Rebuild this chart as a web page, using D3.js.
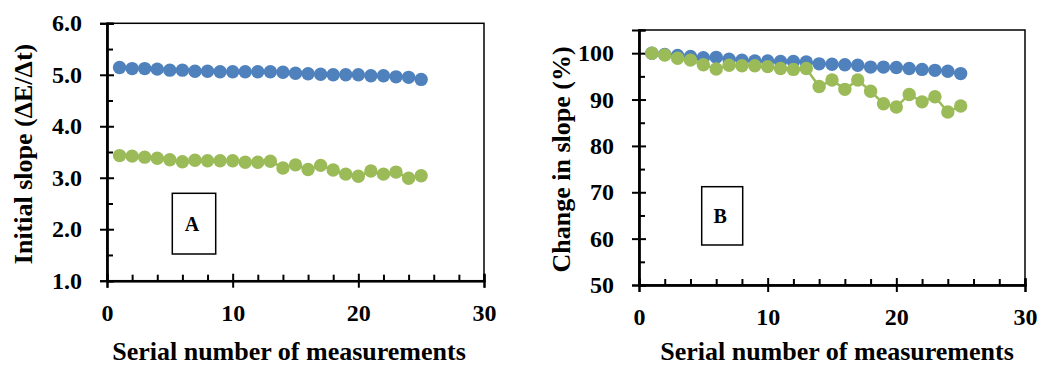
<!DOCTYPE html>
<html>
<head>
<meta charset="utf-8">
<script src="https://cdn.jsdelivr.net/npm/d3@7"></script>
<style>
  html, body { margin: 0; padding: 0; background: #fff; }
  svg { display: block; }
  text { font-family: "Liberation Serif", "Times New Roman", serif; font-weight: bold; fill: #000; }
</style>
</head>
<body>
<svg id="chart" width="1041" height="366"></svg>
<script>
// Serial number of each measurement
const serialNumbers = [1, 2, 3, 4, 5, 6, 7, 8, 9, 10, 11, 12, 13, 14, 15, 16, 17, 18, 19, 20, 21, 22, 23, 24, 25];

// Panel A: initial slope (ΔE/Δt)
const slopeBlue = [5.14, 5.12, 5.12, 5.11, 5.09, 5.09, 5.07, 5.07, 5.06, 5.06, 5.06, 5.06, 5.06,
                   5.05, 5.03, 5.02, 5.01, 5.00, 5.00, 5.00, 4.98, 4.98, 4.96, 4.95, 4.91];
const slopeGreen = [3.43, 3.42, 3.40, 3.38, 3.35, 3.31, 3.34, 3.33, 3.33, 3.33, 3.30, 3.30, 3.32,
                    3.19, 3.25, 3.16, 3.24, 3.15, 3.07, 3.03, 3.13, 3.07, 3.11, 2.99, 3.04];

// Panel B: change in slope (%)
const pctBlue = [100, 99.7, 99.5, 99.3, 99.0, 99.1, 98.7, 98.5, 98.3, 98.3, 98.2, 98.2, 98.1,
                 97.7, 97.6, 97.5, 97.4, 97.0, 97.0, 96.9, 96.7, 96.5, 96.3, 96.1, 95.6];
const pctGreen = [100, 99.6, 98.9, 98.5, 97.5, 96.6, 97.4, 97.3, 97.3, 97.1, 96.7, 96.5, 96.7,
                  92.8, 94.2, 92.2, 94.2, 91.8, 89.1, 88.4, 91.1, 89.5, 90.6, 87.3, 88.6];

// Tick labels
const xTicks = [0, 10, 20, 30];
const xMinorTicks = [2, 4, 6, 8, 12, 14, 16, 18, 22, 24, 26, 28];
const slopeTicks = [1, 2, 3, 4, 5, 6];
const slopeMinorTicks = [1.5, 2.5, 3.5, 4.5, 5.5];
const pctTicks = [50, 60, 70, 80, 90, 100];
const pctMinorTicks = [55, 65, 75, 85, 95];

const BLUE = "#4F81BD";
const GREEN = "#9BBB59";

const svg = d3.select("#chart");

function drawPanel(cfg) {
  const { left, right, top, bottom, yDomain, yTicks, yMinor, yFormat, series,
          yTitle, yTitleX, xTitleX, tag, box } = cfg;

  const x = d3.scaleLinear().domain([0, 30]).range([left, right]);
  const y = d3.scaleLinear().domain(yDomain).range([bottom, top]);
  const g = svg.append("g");

  // plot frame
  g.append("rect")
    .attr("x", left).attr("y", top)
    .attr("width", right - left).attr("height", bottom - top)
    .attr("fill", "none").attr("stroke", "#000").attr("stroke-width", 1.5);

  // y axis: outer half of major ticks plus labels
  const yAxis = g.append("g")
    .attr("transform", `translate(${left},0)`)
    .call(d3.axisLeft(y).tickValues(yTicks).tickSizeOuter(0).tickSize(7).tickPadding(18).tickFormat(yFormat));
  // inner half of major ticks
  const yIn = g.append("g")
    .attr("transform", `translate(${left},0)`)
    .call(d3.axisLeft(y).tickValues(yTicks).tickSizeOuter(0).tickSize(-7).tickFormat(""));
  // minor ticks, inside only
  const yMin = g.append("g")
    .attr("transform", `translate(${left},0)`)
    .call(d3.axisLeft(y).tickValues(yMinor).tickSizeOuter(0).tickSize(-6).tickFormat(""));

  // x axis
  const xAxis = g.append("g")
    .attr("transform", `translate(0,${bottom})`)
    .call(d3.axisBottom(x).tickValues(xTicks).tickSizeOuter(0).tickSize(7).tickPadding(16).tickFormat(d3.format("d")));
  const xIn = g.append("g")
    .attr("transform", `translate(0,${bottom})`)
    .call(d3.axisBottom(x).tickValues(xTicks).tickSizeOuter(0).tickSize(-7).tickFormat(""));
  const xMin = g.append("g")
    .attr("transform", `translate(0,${bottom})`)
    .call(d3.axisBottom(x).tickValues(xMinorTicks).tickSizeOuter(0).tickSize(-6).tickFormat(""));

  [yAxis, yIn, yMin, xAxis, xIn, xMin].forEach(a => {
    a.select(".domain").attr("stroke", "#000").attr("stroke-width", 2);
    a.selectAll(".tick line").attr("stroke", "#000").attr("stroke-width", 2);
    a.selectAll(".tick text")
      .attr("fill", "#000")
      .style("font-family", '"Liberation Serif", "Times New Roman", serif')
      .style("font-weight", "bold")
      .style("font-size", "24px");
  });

  // series: connecting line then markers
  const line = d3.line().x((d, i) => x(serialNumbers[i])).y(d => y(d));
  series.forEach(s => {
    g.append("path")
      .datum(s.values)
      .attr("d", line)
      .attr("fill", "none")
      .attr("stroke", s.color)
      .attr("stroke-width", 2.5);
    g.append("g").selectAll("circle")
      .data(s.values)
      .join("circle")
      .attr("cx", (d, i) => x(serialNumbers[i]))
      .attr("cy", d => y(d))
      .attr("r", 6.7)
      .attr("fill", s.color);
  });

  // panel tag in a framed box
  g.append("rect")
    .attr("x", box.x).attr("y", box.y)
    .attr("width", box.w).attr("height", box.h)
    .attr("fill", "#fff").attr("stroke", "#000").attr("stroke-width", 1.5);
  g.append("text")
    .attr("x", box.x + box.w / 2 - 2)
    .attr("y", box.y + box.h / 2)
    .attr("dy", "0.35em")
    .attr("text-anchor", "middle")
    .style("font-size", "20px")
    .text(tag);

  // axis titles
  g.append("text")
    .attr("transform", `translate(${yTitleX},${(top + bottom) / 2 + 2}) rotate(-90)`)
    .attr("text-anchor", "middle")
    .style("font-size", "26px")
    .text(yTitle);
  g.append("text")
    .attr("x", xTitleX)
    .attr("y", 360)
    .attr("text-anchor", "middle")
    .style("font-size", "26px")
    .text("Serial number of measurements");
}

drawPanel({
  left: 107, right: 484, top: 23.3, bottom: 280.7,
  yDomain: [1, 6], yTicks: slopeTicks, yMinor: slopeMinorTicks, yFormat: d3.format(".1f"),
  series: [{ values: slopeBlue, color: BLUE }, { values: slopeGreen, color: GREEN }],
  yTitle: "Initial slope (ΔE/Δt)", yTitleX: 32, xTitleX: 289,
  tag: "A", box: { x: 172.3, y: 193.3, w: 43.4, h: 60.7 }
});

drawPanel({
  left: 639, right: 1025, top: 30, bottom: 285,
  yDomain: [50, 105], yTicks: pctTicks, yMinor: pctMinorTicks, yFormat: d3.format("d"),
  series: [{ values: pctBlue, color: BLUE }, { values: pctGreen, color: GREEN }],
  yTitle: "Change in slope (%)", yTitleX: 570, xTitleX: 837,
  tag: "B", box: { x: 701.7, y: 186.7, w: 41, h: 58.3 }
});
</script>
</body>
</html>
